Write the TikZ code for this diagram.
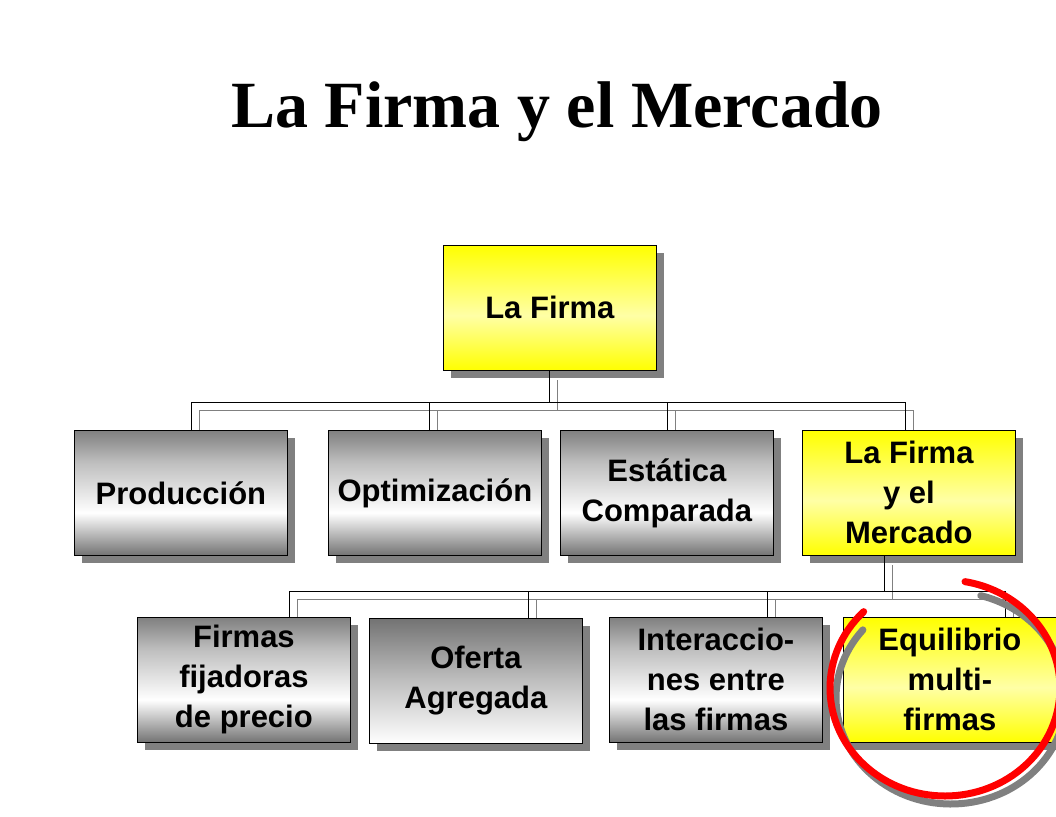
\documentclass[tikz,border=0pt]{standalone}
\usepackage{fontspec}
\setmainfont{Liberation Serif}
\setsansfont{Liberation Sans}
\pgfdeclareverticalshading{grayb}{100bp}{color(0bp)=(black!55); color(25bp)=(black!55); color(42bp)=(white); color(62bp)=(black!25); color(75bp)=(black!50); color(100bp)=(black!50)}
\pgfdeclareverticalshading{grayr}{100bp}{color(0bp)=(white); color(25bp)=(white); color(50bp)=(black!25); color(75bp)=(black!55); color(100bp)=(black!55)}
\pgfdeclareverticalshading{yelb}{100bp}{color(0bp)=(yellow); color(25bp)=(yellow); color(47bp)=(yellow!35); color(75bp)=(yellow); color(100bp)=(yellow)}
\begin{document}
\begin{tikzpicture}[x=1pt,y=-1pt,
  box/.style={draw=black, line width=0.8pt, minimum width=213pt, minimum height=125pt, anchor=north west, inner sep=0pt, align=center, font=\sffamily\bfseries\fontsize{31}{40}\selectfont},
  gbox/.style={box, shading=grayb},
  rbox/.style={box, shading=grayr},
  ybox/.style={box, shading=yelb},
  shad/.style={fill=black!50, draw=none},
  conn/.style={draw=black, line width=0.8pt},
  connsh/.style={draw=black!50, line width=0.8pt}]
\useasboundingbox (0,0) rectangle (1056,816);
\node[font=\bfseries\fontsize{66}{70}\selectfont] (title) at (557,112) {La Firma y el Mercado};
% shadows
\foreach \x/\y in {443/245,74/430,328/430,560/430,802/430,137/617,369/618,609/617,843/617}
  \fill[shad] (\x+8,\y+8) rectangle ++(213,125);
% connectors shadows
\draw[connsh] (557,380) -- (557,410) (199,430) |- (913,410) (437,410) -- (437,430) (675,410) -- (675,430) (913,410) -- (913,430);
\draw[connsh] (892,565) -- (892,599) (297,617) |- (1013,599) (536,599) -- (536,618) (775,599) -- (775,617) (1013,599) -- (1013,617);
% nodes
\node[ybox] (top) at (443,245) {La Firma};
\node[gbox] (p) at (74,430) {Producción};
\node[gbox] (o) at (328,430) {Optimización};
\node[gbox] (e) at (560,430) {Estática\\Comparada};
\node[ybox] (m) at (802,430) {La Firma\\y el\\Mercado};
\node[gbox] (f) at (137,617) {Firmas\\fijadoras\\de precio};
\node[rbox] (of) at (369,618) {Oferta\\Agregada};
\node[gbox] (i) at (609,617) {Interaccio-\\nes entre\\las firmas};
\node[ybox] (eq) at (843,617) {Equilibrio\\multi-\\firmas};
% connectors
\coordinate (j1) at (549,402);
\coordinate (j2) at (884,591);
\draw[conn] (top.south -| j1) -- (j1);
\draw[conn] (p.north -| 191,0) |- (905,402) -- (m.north -| 905,0);
\draw[conn] (429,402) -- (o.north -| 429,0);
\draw[conn] (667,402) -- (e.north -| 667,0);
\draw[conn] (m.south -| j2) -- (j2);
\draw[conn] (f.north -| 289,0) |- (1005,591) -- (eq.north -| 1005,0);
\draw[conn] (528,591) -- (of.north -| 528,0);
\draw[conn] (767,591) -- (i.north -| 767,0);
% red circle
\draw[black!50, line width=7pt, line cap=round] (951,698) ++(220:115 and 106) arc[start angle=220, end angle=-75, x radius=115, y radius=106];
\draw[red, line width=7pt, line cap=round] (945,688) ++(225:115 and 108) arc[start angle=225, end angle=-80, x radius=115, y radius=108];
\end{tikzpicture}
\end{document}
